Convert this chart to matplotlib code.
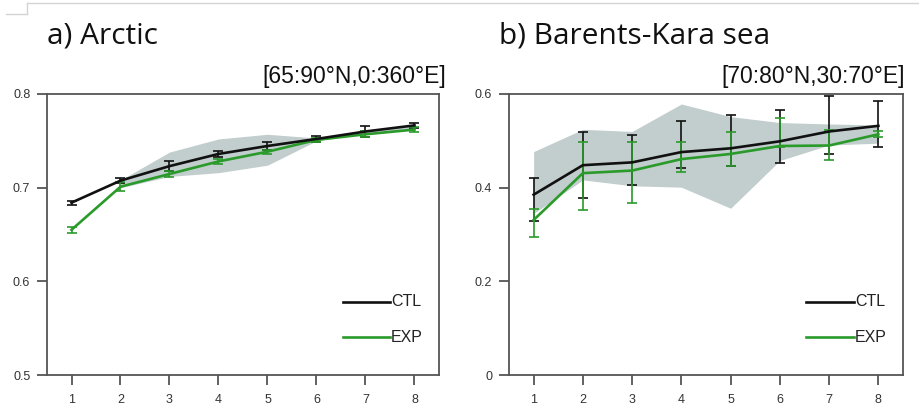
import matplotlib
matplotlib.use("Agg")
import matplotlib.pyplot as plt
from matplotlib.lines import Line2D
import numpy as np

x = [1, 2, 3, 4, 5, 6, 7, 8]

# Panel a) Arctic
a_ctl = [0.684, 0.7075, 0.723, 0.736, 0.7445, 0.752, 0.760, 0.7665]
a_ctl_lo = [0.682, 0.705, 0.718, 0.733, 0.740, 0.7485, 0.754, 0.7635]
a_ctl_hi = [0.686, 0.710, 0.728, 0.739, 0.749, 0.7555, 0.766, 0.7695]
a_exp = [0.655, 0.701, 0.7146, 0.728, 0.7384, 0.751, 0.757, 0.762]
a_exp_lo = [0.652, 0.696, 0.7115, 0.725, 0.7364, 0.749, 0.754, 0.759]
a_exp_hi = [0.658, 0.706, 0.7175, 0.731, 0.7404, 0.753, 0.760, 0.765]
a_shade_x = [2, 3, 4, 5, 6, 7, 8]
a_shade_lo = [0.700, 0.712, 0.716, 0.724, 0.750, 0.758, 0.763]
a_shade_hi = [0.708, 0.738, 0.752, 0.757, 0.753, 0.760, 0.767]

# Panel b) Barents-Kara sea
b_ctl = [0.385, 0.448, 0.454, 0.476, 0.484, 0.499, 0.520, 0.532]
b_ctl_lo = [0.328, 0.379, 0.405, 0.4415, 0.446, 0.4536, 0.472, 0.486]
b_ctl_hi = [0.4216, 0.518, 0.5126, 0.542, 0.555, 0.565, 0.5965, 0.584]
b_exp = [0.331, 0.431, 0.4365, 0.461, 0.472, 0.489, 0.490, 0.514]
b_exp_lo = [0.2936, 0.3526, 0.3676, 0.4344, 0.446, 0.4877, 0.4592, 0.5076]
b_exp_hi = [0.354, 0.4976, 0.497, 0.497, 0.519, 0.5495, 0.5225, 0.522]
b_shade_x = [1, 2, 3, 4, 5, 6, 7, 8]
b_shade_lo = [0.345, 0.4166, 0.404, 0.401, 0.356, 0.458, 0.491, 0.495]
b_shade_hi = [0.477, 0.5246, 0.520, 0.5787, 0.5517, 0.539, 0.536, 0.534]

ctl_color = "#111111"
exp_color = "#2a9a2a"
shade_color = "#c2cdcd"
spine_color = "#555555"
lab_font = ["Liberation Sans", "DejaVu Sans"]

fig = plt.figure(figsize=(9.2, 4.15), dpi=100)

# screenshot frame artefact
fig.add_artist(Line2D([27/920, 918/920], [1-3/415, 1-3/415], color="#d4d4d4", lw=1.0))
fig.add_artist(Line2D([27/920, 27/920], [1-3/415, 1-14/415], color="#d4d4d4", lw=1.0))
fig.add_artist(Line2D([6/920, 27/920], [1-14/415, 1-14/415], color="#d4d4d4", lw=1.0))

ax1 = fig.add_axes([47/920, 1-375/415, 392/920, 281/415])
ax2 = fig.add_axes([509/920, 1-375/415, 394/920, 281/415])


def draw(ax, ctl, clo, chi, exp, elo, ehi, sx, slo, shi, ylim, yticks, yfmt):
    ax.fill_between(sx, slo, shi, color=shade_color, lw=0, zorder=1)
    c = np.array(ctl); e = np.array(exp)
    ax.errorbar(x, c, yerr=[c - np.array(clo), np.array(chi) - c], fmt="none",
                ecolor=ctl_color, elinewidth=1.2, capsize=3.6, capthick=1.2, zorder=3)
    ax.errorbar(x, e, yerr=[e - np.array(elo), np.array(ehi) - e], fmt="none",
                ecolor=exp_color, elinewidth=1.2, capsize=3.6, capthick=1.2, zorder=3)
    ax.plot(x, e, color=exp_color, lw=1.9, zorder=4)
    ax.plot(x, c, color=ctl_color, lw=1.9, zorder=5)
    ax.set_xlim(0.5, 8.5)
    ax.set_ylim(*ylim)
    ax.set_xticks(x)
    ax.set_yticks(yticks)
    ax.set_yticklabels([yfmt(v) for v in yticks])
    for lbl in ax.get_xticklabels() + ax.get_yticklabels():
        lbl.set_family(lab_font)
    for s in ax.spines.values():
        s.set_color(spine_color)
        s.set_linewidth(1.3)
    ax.tick_params(direction="out", length=7, width=1.3, color=spine_color,
                   labelsize=9, labelcolor="#333333", pad=7)
    ax.tick_params(axis="y", pad=5)
    # legend drawn manually in axes fraction
    ax.add_line(Line2D([0.755, 0.875], [0.26, 0.26], transform=ax.transAxes,
                       color=ctl_color, lw=1.9))
    ax.add_line(Line2D([0.755, 0.875], [0.135, 0.135], transform=ax.transAxes,
                       color=exp_color, lw=1.9))
    ax.text(0.878, 0.26, "CTL", transform=ax.transAxes, va="center", ha="left",
            fontsize=11.5, color="#222222", family=lab_font)
    ax.text(0.878, 0.135, "EXP", transform=ax.transAxes, va="center", ha="left",
            fontsize=11.5, color="#222222", family=lab_font)


draw(ax1, a_ctl, a_ctl_lo, a_ctl_hi, a_exp, a_exp_lo, a_exp_hi,
     a_shade_x, a_shade_lo, a_shade_hi, (0.5, 0.8), [0.5, 0.6, 0.7, 0.8],
     lambda v: f"{v:.1f}")
draw(ax2, b_ctl, b_ctl_lo, b_ctl_hi, b_exp, b_exp_lo, b_exp_hi,
     b_shade_x, b_shade_lo, b_shade_hi, (0.0, 0.6), [0.0, 0.2, 0.4, 0.6],
     lambda v: "0" if v == 0 else f"{v:.1f}")

title_font = ["Open Sans", "DejaVu Sans"]
fig.text(47/920, 1-43/415, "a) Arctic", fontsize=21.5, family=title_font,
         va="baseline", ha="left", color="#111111")
fig.text(499/920, 1-43/415, "b) Barents-Kara sea", fontsize=21.5, family=title_font,
         va="baseline", ha="left", color="#111111")

fig.text(446/920, 1-83/415, "[65:90°N,0:360°E]", fontsize=16.5, family=lab_font,
         va="baseline", ha="right", color="#111111")
fig.text(905/920, 1-83/415, "[70:80°N,30:70°E]", fontsize=16.5, family=lab_font,
         va="baseline", ha="right", color="#111111")

fig.savefig("out.png", dpi=100)
